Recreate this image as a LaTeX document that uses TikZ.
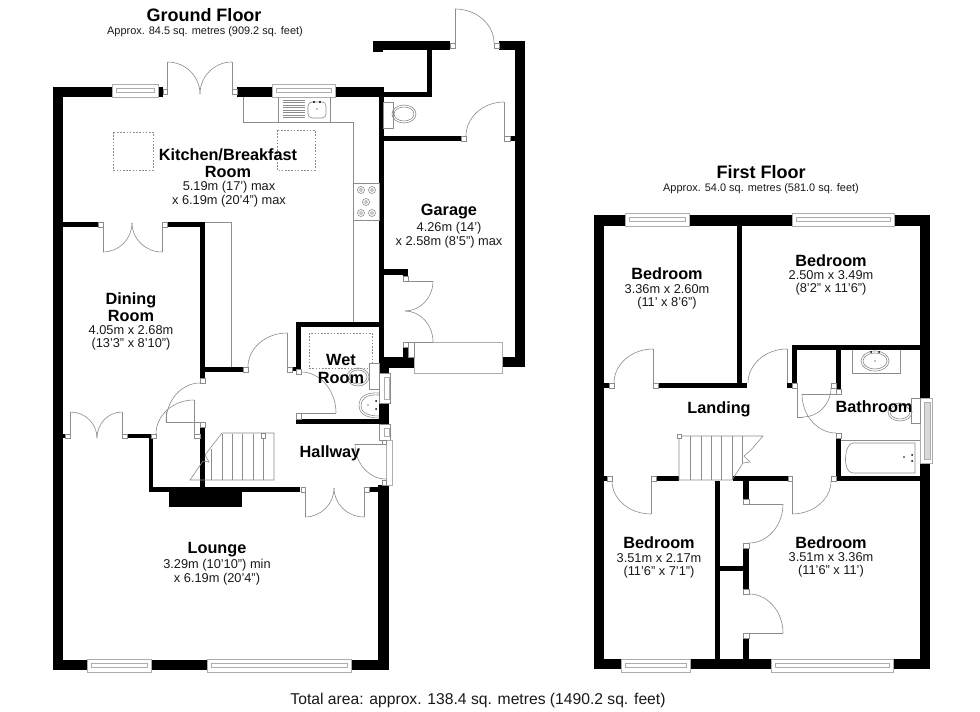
\documentclass[tikz,border=0pt]{standalone}
\usepackage{fontspec}
\setmainfont{Liberation Sans}
\definecolor{thin}{gray}{0.55}
\definecolor{winc}{gray}{0.68}
\tikzset{
  thinline/.style={draw=thin,line width=.45pt},
  frameb/.style={draw=thin,fill=white,line width=.45pt},
  winline/.style={draw=winc,fill=white,line width=.5pt},
  skylight/.style={draw=thin,line width=.45pt,dash pattern=on 1.2pt off 1.2pt},
  titlelbl/.style={font=\fontsize{13.5}{15}\selectfont\bfseries,inner sep=0pt},
  sublbl/.style={font=\fontsize{8.2}{9}\selectfont,inner sep=0pt,text=black!90},
  roomlbl/.style={font=\fontsize{12.2}{12.8}\selectfont\bfseries,inner sep=0pt,align=center},
  dimlbl/.style={font=\fontsize{9.6}{10.2}\selectfont,inner sep=0pt,align=center,text=black!90},
  totallbl/.style={font=\fontsize{11.75}{13}\selectfont,inner sep=0pt,text=black!90}
}
\newcommand{\wl}[4]{\fill[black] (#1,#2) rectangle (#3,#4);}
\newcommand{\fr}[4]{\draw[frameb] (#1,#2) rectangle (#3,#4);}
% quarter door arc: leaves first point horizontally, reaches second vertically
\newcommand{\arcHV}[4]{\draw[thinline] (#1,#2) .. controls ({#1+.55*(#3-#1)},#2) and (#3,{#4-.55*(#4-#2)}) .. (#3,#4);}
% windows
\newcommand{\winH}[4]{\draw[winline] (#1,#3) rectangle (#2,#4);
  \draw[winline] ({#1+4},{#3+4}) rectangle ({#2-4},{#3+8});}
\newcommand{\winV}[4]{\draw[frameb] (#1,#3) rectangle (#2,#4);
  \draw[winline] ({#1+5},{#3+4}) rectangle ({#1+10},{#4-4});}
\begin{document}
\begin{tikzpicture}[x=.75pt,y=-.75pt]
\useasboundingbox (0,0) rectangle (980,712);
\fill[white] (0,0) rectangle (980,712);

% ===== GROUND FLOOR: walls
\wl{53}{87}{63}{670}
\wl{53}{87}{112}{97}
\wl{157}{87}{163}{97}
\wl{237}{87}{272}{97}
\wl{335}{87}{384}{97}
\wl{379}{87}{384}{357}
\wl{379}{357}{389}{374}
\wl{379}{403}{389}{424}
\wl{296}{419}{389}{424}
\wl{296}{322}{379}{327}
\wl{296}{322}{301}{369}
\wl{292}{367}{301}{371}
\wl{378}{485}{389}{670}
\wl{369}{487}{379}{492}
\wl{149}{487}{300}{492}
\wl{169}{492}{242}{507}
\wl{149}{434}{153}{492}
\wl{127}{434}{153}{438}
\wl{63}{434}{65}{438}
\wl{200}{427}{205}{487}
\wl{200}{222}{205}{378}
\wl{205}{367}{243}{372}
\wl{63}{222}{98}{227}
\wl{167}{222}{205}{227}
\wl{53}{660}{87}{670}
\wl{151}{660}{207}{670}
\wl{351}{660}{389}{670}
% garage / wc
\wl{373}{41}{383}{52}
\wl{373}{41}{450}{50}
\wl{427}{50}{432}{97}
\wl{383}{92}{432}{97}
\wl{499}{41}{525}{50}
\wl{515}{41}{525}{367}
\wl{502}{357}{525}{367}
\wl{383}{357}{414}{368}
\wl{403}{347}{408}{357}
\wl{383}{269}{408}{275}
\wl{403}{269}{408}{276}
\wl{383}{136}{461}{141}
\wl{510}{136}{515}{141}

% ===== GROUND FLOOR: windows
\winH{112}{158}{84}{97}
\winH{272}{335}{84}{97}
\winH{87}{151}{659}{672}
\winH{207}{351}{659}{672}
\draw[winline] (414,342) rectangle (502,373);
\winV{379}{390}{373}{403}
\winV{379}{390}{424}{440}
\draw[winline] (386,440) rectangle (392,485);

% ===== GROUND FLOOR: kitchen fittings
\draw[thinline] (243,97) -- (243,122) -- (353,122) -- (353,322);
\draw[thinline] (205,222) -- (231,222) -- (231,367);
\draw[thinline] (278,97) -- (278,122) (330,97) -- (330,122);
\foreach \yy in {100,102.5,...,118} {\draw[thinline] (283,\yy) -- (305,\yy);}
\draw[thinline,rounded corners=3pt] (308,102) rectangle (326,118);
\fill[thin] (314,102) circle (1.2) (320,102) circle (1.2) (317,109) circle (.6);
\draw[thinline] (353,183) rectangle (379,220);
\foreach \hx/\hy in {361/190,372/190,366/202,361/213,372/213}{
  \draw[thinline] (\hx,\hy) circle (3.5) (\hx,\hy) circle (1.5);}
\draw[skylight] (113,132) rectangle (153,170);
\draw[skylight] (277,130) rectangle (315,170);
\draw[skylight] (309,333) rectangle (372,368);

% ===== GROUND FLOOR: doors
% kitchen french doors
\draw[thinline] (167.5,94) -- (167.5,62);
\arcHV{167.5}{62}{200}{94}
\draw[thinline] (232,94) -- (232,62);
\arcHV{232}{62}{200}{94}
\fr{163}{89}{167.5}{94}
\fr{232}{89}{237}{94}
% dining top french doors
\draw[thinline] (103,227) -- (103,252);
\arcHV{103}{252}{132}{223}
\draw[thinline] (162,227) -- (162,252);
\arcHV{162}{252}{132}{223}
\fr{98}{222}{103}{227}
\fr{162}{222}{167}{227}
% dining bottom french doors
\draw[thinline] (70.5,434) -- (70.5,412);
\arcHV{70.5}{412}{97}{438}
\draw[thinline] (122,434) -- (122,412);
\arcHV{122}{412}{97}{438}
\fr{65}{434}{70.5}{438}
\fr{122}{434}{127}{438}
% cupboard door
\draw[thinline] (194,434) -- (194,400);
\arcHV{194}{400}{156}{434}
\fr{151}{434}{156}{438}
\fr{194}{434}{200}{438}
% dining door
\draw[thinline] (166,412) -- (166,422) -- (200,422);
\arcHV{200}{383}{166}{422}
\fr{200}{378}{205}{383}
\fr{200}{422}{205}{427}
% kitchen door to hall
\draw[thinline] (287,367) -- (287,333);
\arcHV{287}{333}{248}{367}
\fr{243}{367}{248}{372}
\fr{287}{367}{292}{372}
% wet room door
\draw[thinline] (301,413) -- (336,413);
\arcHV{301}{372}{336}{413}
\fr{296}{369}{301}{374}
\fr{296}{413}{301}{419}
% front door
\draw[thinline] (355,444) -- (386,444);
\arcHV{386}{479}{355}{444}
\fr{382}{440}{386}{444}
\fr{382}{480}{386}{485}
% lounge french doors
\draw[thinline] (305,492) -- (305,517);
\arcHV{305}{517}{334}{488}
\draw[thinline] (364,492) -- (364,517);
\arcHV{364}{517}{334}{488}
\fr{301}{487}{305}{492}
\fr{364}{487}{369}{492}
% rear door (top)
\draw[thinline] (455,43) -- (455,9);
\arcHV{455}{9}{494}{43}
\fr{450}{43}{455}{48}
\fr{494}{43}{499}{48}
% wc door
\draw[thinline] (504,136) -- (504,102);
\arcHV{504}{102}{466}{136}
\fr{461}{136}{466}{141}
\fr{504}{136}{510}{141}
% garage inner double doors
\draw[thinline] (408,281) -- (433,281);
\arcHV{405}{311}{433}{281}
\draw[thinline] (408,342) -- (433,342);
\arcHV{405}{311}{433}{342}
\fr{403}{276}{408}{281}
\fr{403}{342}{408}{347}
\draw[thinline] (408,342) rectangle (414,357);

% ===== GROUND FLOOR: sanitary
\draw[frameb] (383,102) rectangle (393,128);
\draw[thinline] (404,114) ellipse (12 and 9) (404,114) ellipse (10 and 7);
\draw[frameb] (369,363) rectangle (379,389);
\draw[thinline] (358,377) ellipse (11 and 9) (358,377) ellipse (9 and 7);
\draw[thinline] (379,393) .. controls (364,392) and (359,398) .. (359,406) .. controls (359,413) and (365,418) .. (379,418);
\draw[thinline] (379,395) .. controls (366,394) and (361,399) .. (361,406) .. controls (361,412) and (367,416) .. (379,416);
\fill[thin] (376,401) circle (1) (376,409) circle (1) (368,405) circle (.6);

% ===== GROUND FLOOR: stairs
\draw[thinline] (222,433) -- (274,433) -- (274,480) -- (190,480) -- (203,461) -- (209,462) -- (205,455) -- (222,433);
\foreach \sx in {222,232,242,253,263}{\draw[thinline] (\sx,434) -- (\sx,480);}
\draw[thinline] (211,449) -- (211,480);
\fr{261}{433}{265}{438}

% ===== FIRST FLOOR: walls
\wl{594}{215}{604}{669}
\wl{594}{215}{625}{226}
\wl{689}{215}{792}{226}
\wl{894}{215}{930}{226}
\wl{920}{215}{930}{398}
\wl{920}{463}{930}{669}
\wl{594}{659}{621}{669}
\wl{690}{659}{771}{669}
\wl{893}{659}{930}{669}
\wl{737}{226}{742}{388}
\wl{658}{383}{747}{388}
\wl{604}{383}{609}{388}
\wl{787}{383}{792}{388}
\wl{792}{345}{797}{383}
\wl{792}{345}{920}{350}
\wl{836}{350}{841}{389}
\wl{836}{438}{841}{481}
\wl{836}{476}{920}{481}
\wl{604}{476}{607}{481}
\wl{656}{476}{679}{481}
\wl{733}{476}{788}{481}
\wl{715}{481}{720}{659}
\wl{743}{481}{749}{499}
\wl{743}{548}{749}{589}
\wl{743}{638}{749}{659}
\wl{720}{566}{743}{571}

% ===== FIRST FLOOR: windows
\winH{625}{689}{213}{226}
\winH{792}{894}{213}{226}
\winH{621}{690}{659}{672}
\winH{771}{893}{659}{672}
\draw[winline] (920,398) rectangle (932,463);
\draw[winline,fill=black!15] (924,402) rectangle (930,459);

% ===== FIRST FLOOR: doors
\draw[thinline] (653,383) -- (653,349);
\arcHV{653}{349}{614}{383}
\fr{609}{383}{614}{388}
\fr{653}{383}{658}{388}
\draw[thinline] (787,383) -- (787,349);
\arcHV{787}{349}{748}{383}
\fr{792}{383}{797}{388}
% airing cupboard
\draw[thinline] (797,388) -- (797,417) -- (803,417);
\arcHV{803}{417}{831}{388}
\fr{831}{383}{836}{388}
% bathroom door
\draw[thinline] (802,394) -- (836,394);
\arcHV{836}{433}{802}{394}
\fr{836}{389}{841}{394}
\fr{836}{433}{841}{438}
% bedroom doors below landing
\draw[thinline] (651,481) -- (651,514);
\arcHV{651}{514}{612}{481}
\fr{607}{476}{612}{481}
\fr{651}{476}{656}{481}
\draw[thinline] (792,481) -- (792,514);
\arcHV{792}{514}{831}{481}
\fr{788}{476}{792}{481}
\fr{831}{476}{836}{481}
% wardrobes
\draw[thinline] (749,504) -- (783,504);
\arcHV{749}{543}{783}{504}
\fr{743}{499}{749}{504}
\fr{743}{543}{749}{548}
\draw[thinline] (749,633) -- (783,633);
\arcHV{749}{594}{783}{633}
\fr{743}{589}{749}{594}
\fr{743}{633}{749}{638}

% ===== FIRST FLOOR: bathroom fittings
\draw[thinline] (852,350) -- (852,373) -- (900,373) -- (900,350);
\draw[thinline] (875,361) ellipse (14 and 10) (875,361) ellipse (12 and 8);
\fill[thin] (871,352) circle (1) (879,352) circle (1) (875,361) circle (.6);
\draw[frameb] (911,398) rectangle (920,423);
\draw[thinline] (900,412) ellipse (12 and 9) (900,412) ellipse (10 and 7);
\draw[thinline] (841,440) -- (920,440);
\draw[thinline] (853,443) -- (915,443) -- (915,473) -- (853,473) .. controls (842,473) and (844,443) .. (853,443);
\fill[thin] (904,457) circle (.8) (912,455) circle (1) (912,461) circle (1);

% ===== FIRST FLOOR: stairs
\draw[thinline] (679,436) -- (763,436) -- (751,450) -- (744,456) -- (750,462) -- (743,463) -- (732,480) -- (679,480) -- cycle;
\foreach \sx in {690,701,711,721,732}{\draw[thinline] (\sx,436) -- (\sx,480);}
\draw[thinline] (742,436) -- (742,463);
\fr{677}{434}{681}{438}

% ===== TEXT
\node[titlelbl] (gftitle) at (204,15) {Ground Floor};
\node[sublbl] (gfsub) at (205,31.5) {Approx. 84.5 sq. metres (909.2 sq. feet)};
\node[titlelbl] (fftitle) at (761,172) {First Floor};
\node[sublbl] (ffsub) at (761,189) {Approx. 54.0 sq. metres (581.0 sq. feet)};
\node[totallbl] (total) at (478,700) {Total area: approx. 138.4 sq. metres (1490.2 sq. feet)};

\node[roomlbl] (kitchen) at (228,163) {Kitchen/Breakfast\\Room};
\node[dimlbl] (kitchendim) at (229,194) {5.19m (17') max\\x 6.19m (20'4") max};
\node[roomlbl] (garage) at (449,212) {Garage};
\node[dimlbl] (garagedim) at (449,235) {4.26m (14')\\x 2.58m (8'5") max};
\node[roomlbl] (dining) at (131,307) {Dining\\Room};
\node[dimlbl] (diningdim) at (131,338) {4.05m x 2.68m\\(13'3" x 8'10")};
\node[roomlbl] (wet) at (341,369) {Wet\\Room};
\node[roomlbl] (hall) at (330,453) {Hallway};
\node[roomlbl] (lounge) at (217,550) {Lounge};
\node[dimlbl] (loungedim) at (217,572) {3.29m (10'10") min\\x 6.19m (20'4")};

\node[roomlbl] (bedone) at (667,274) {Bedroom};
\node[dimlbl] (bedonedim) at (667,297) {3.36m x 2.60m\\(11' x 8'6")};
\node[roomlbl] (bedtwo) at (831,261) {Bedroom};
\node[dimlbl] (bedtwodim) at (831,283) {2.50m x 3.49m\\(8'2" x 11'6")};
\node[roomlbl] (landing) at (719,409) {Landing};
\node[roomlbl] (bath) at (874,407) {Bathroom};
\node[roomlbl] (bedthree) at (659,543) {Bedroom};
\node[dimlbl] (bedthreedim) at (659,566) {3.51m x 2.17m\\(11'6" x 7'1")};
\node[roomlbl] (bedfour) at (831,543) {Bedroom};
\node[dimlbl] (bedfourdim) at (831,565) {3.51m x 3.36m\\(11'6" x 11')};
\end{tikzpicture}
\end{document}
